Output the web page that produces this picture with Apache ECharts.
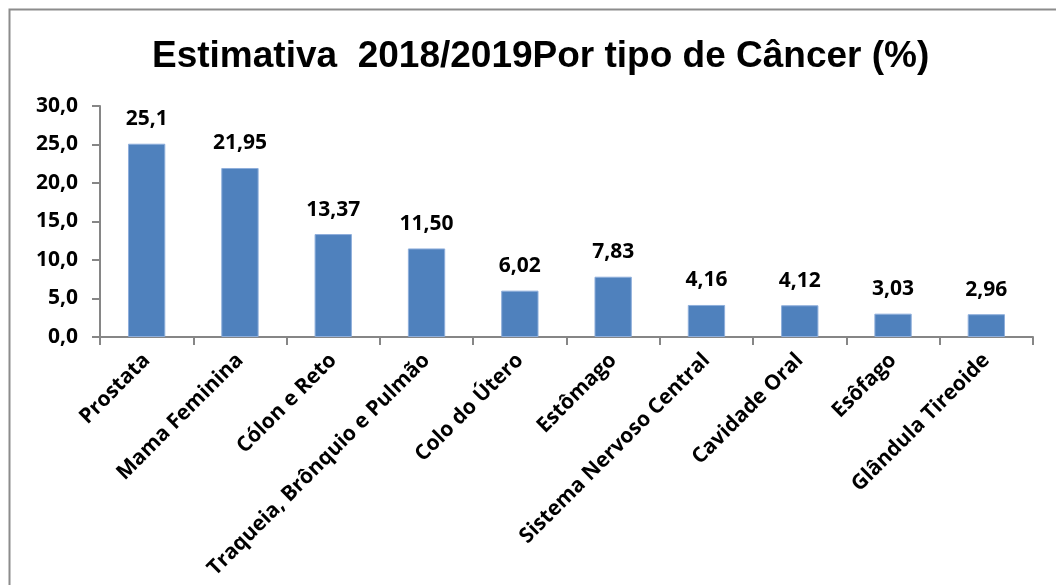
<!DOCTYPE html>
<html>
<head>
<meta charset="utf-8">
<script src="https://cdn.jsdelivr.net/npm/echarts@6/dist/echarts.min.js"></script>
<style>
  html, body { margin: 0; padding: 0; background: #fff; }
  #chart { width: 1056px; height: 585px; }
</style>
</head>
<body>
<div id="chart"></div>
<script>
// dados
const categorias = ['Prostata', 'Mama Feminina', 'Cólon e Reto', 'Traqueia, Brônquio e Pulmão',
  'Colo do Útero', 'Estômago', 'Sistema Nervoso Central', 'Cavidade Oral', 'Esôfago', 'Glândula Tireoide']
const valores = [25.1, 21.95, 13.37, 11.50, 6.02, 7.83, 4.16, 4.12, 3.03, 2.96]
const rotulos = ['25,1', '21,95', '13,37', '11,50', '6,02', '7,83', '4,16', '4,12', '3,03', '2,96']
const yTicks = ['0,0', '5,0', '10,0', '15,0', '20,0', '25,0', '30,0']

const chart = echarts.init(document.getElementById('chart'))

const labelFont = { fontFamily: 'Open Sans', fontWeight: 'bold', fontSize: 21, color: '#000' }

const option = {
  animation: false,
  backgroundColor: '#fff',
  title: {
    text: 'Estimativa  2018/2019Por tipo de Câncer (%)',
    left: 147,
    top: 33,
    textStyle: { fontFamily: 'Liberation Sans', fontWeight: 'bold', fontSize: 37, color: '#000' }
  },
  graphic: [
    {
      type: 'rect',
      shape: { x: 9.5, y: 9.5, width: 1200, height: 800 },
      style: { fill: 'none', stroke: '#8c8c8c', lineWidth: 2 },
      silent: true
    }
  ],
  grid: { left: 100, right: 23, top: 106, bottom: 248 },
  xAxis: {
    type: 'category',
    data: categorias,
    axisLine: { lineStyle: { color: '#868686', width: 2 } },
    axisTick: { show: true, alignWithLabel: false, length: 8, lineStyle: { color: '#868686', width: 2 } },
    axisLabel: { ...labelFont, rotate: 45, interval: 0, margin: 20 }
  },
  yAxis: {
    type: 'value',
    min: 0,
    max: 30,
    interval: 5,
    splitLine: { show: false },
    axisLine: { show: true, lineStyle: { color: '#868686', width: 2 } },
    axisTick: { show: true, length: 8, lineStyle: { color: '#868686', width: 2 } },
    axisLabel: {
      ...labelFont,
      margin: 22,
      formatter: (v) => yTicks[Math.round(v / 5)]
    }
  },
  series: [
    {
      type: 'bar',
      data: valores,
      barWidth: '40%',
      itemStyle: { color: '#4F81BD', borderColor: '#8EAEDB', borderWidth: 1 },
      label: {
        show: true,
        position: 'top',
        distance: 14,
        ...labelFont,
        formatter: (p) => rotulos[p.dataIndex]
      }
    }
  ]
}

chart.setOption(option)
</script>
</body>
</html>
